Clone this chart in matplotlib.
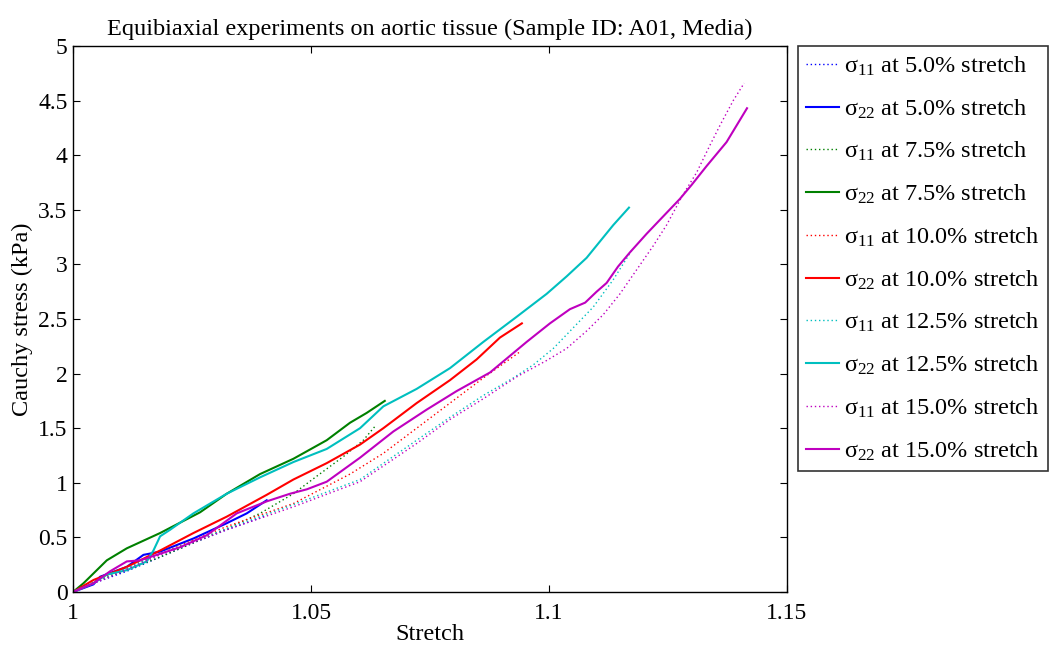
import matplotlib
matplotlib.use("Agg")
import matplotlib.pyplot as plt

plt.rcParams['font.family'] = ['Liberation Serif', 'DejaVu Serif']
plt.rcParams['mathtext.fontset'] = 'custom'
plt.rcParams['mathtext.rm'] = 'Liberation Serif'
plt.rcParams['mathtext.it'] = 'Liberation Serif'
plt.rcParams['mathtext.default'] = 'regular'

title = "Equibiaxial experiments on aortic tissue (Sample ID: A01, Media)"
xlabel = "Stretch"
ylabel = "Cauchy stress (kPa)"
xticks = [1.0, 1.05, 1.1, 1.15]
xticklabels = ["1", "1.05", "1.1", "1.15"]
yticks = [0, 0.5, 1, 1.5, 2, 2.5, 3, 3.5, 4, 4.5, 5]
yticklabels = ["0", "0.5", "1", "1.5", "2", "2.5", "3", "3.5", "4", "4.5", "5"]

# sigma_11 / sigma_22 at 5.0% stretch
s11_5_x = [1.0, 1.0043, 1.0113, 1.0183, 1.0253, 1.0323, 1.0407]
s11_5_y = [0, 0.08, 0.19, 0.32, 0.45, 0.57, 0.70]
s22_5_x = [1.0, 1.0043, 1.0057, 1.0113, 1.0148, 1.0183, 1.0253, 1.0323, 1.0365, 1.0407]
s22_5_y = [0, 0.07, 0.14, 0.23, 0.34, 0.37, 0.49, 0.63, 0.72, 0.84]

# 7.5%
s11_75_x = [1.0, 1.0043, 1.0113, 1.0183, 1.0253, 1.0323, 1.0393, 1.0463, 1.0512, 1.0568, 1.061, 1.0635]
s11_75_y = [0, 0.09, 0.20, 0.32, 0.45, 0.58, 0.72, 0.90, 1.06, 1.24, 1.39, 1.52]
s22_75_x = [1.0, 1.0022, 1.0057, 1.0071, 1.0113, 1.0183, 1.0267, 1.0323, 1.0393, 1.0463, 1.0533,
            1.0582, 1.0617, 1.0655]
s22_75_y = [0, 0.08, 0.23, 0.29, 0.40, 0.54, 0.73, 0.90, 1.08, 1.22, 1.39, 1.55, 1.64, 1.75]

# 10.0%
s11_10_x = [1.0, 1.0078, 1.0183, 1.0323, 1.0463, 1.0582, 1.0652, 1.0722, 1.0792, 1.0862, 1.0939]
s11_10_y = [0, 0.16, 0.35, 0.60, 0.81, 1.08, 1.27, 1.50, 1.73, 1.96, 2.20]
s22_10_x = [1.0, 1.0043, 1.0113, 1.0183, 1.0253, 1.0323, 1.0407, 1.0463, 1.0533, 1.0603, 1.0652,
            1.0722, 1.0792, 1.0848, 1.0897, 1.0943]
s22_10_y = [0, 0.11, 0.23, 0.38, 0.54, 0.69, 0.89, 1.03, 1.18, 1.35, 1.50, 1.73, 1.94, 2.13, 2.33, 2.46]

# 12.5%
s11_125_x = [1.0, 1.0078, 1.0183, 1.0323, 1.0463, 1.0603, 1.0722, 1.0792, 1.0862, 1.0925, 1.0967,
             1.1009, 1.1051, 1.1093, 1.1135, 1.1174]
s11_125_y = [0, 0.15, 0.35, 0.58, 0.80, 1.03, 1.39, 1.60, 1.80, 1.96, 2.08, 2.23, 2.42, 2.61, 2.86, 3.13]
s22_125_x = [1.0, 1.0043, 1.0071, 1.0113, 1.0155, 1.0169, 1.0183, 1.0204, 1.0253, 1.0323, 1.0393,
             1.0463, 1.0533, 1.0603, 1.0652, 1.0722, 1.0792, 1.0862, 1.0932, 1.0995, 1.1037, 1.1079,
             1.1107, 1.1135, 1.1168]
s22_125_y = [0, 0.08, 0.16, 0.20, 0.28, 0.38, 0.51, 0.57, 0.72, 0.90, 1.05, 1.19, 1.31, 1.50, 1.70,
             1.86, 2.05, 2.29, 2.52, 2.73, 2.89, 3.06, 3.21, 3.36, 3.52]

# 15.0%
s11_15_x = [1.0, 1.0078, 1.0183, 1.0323, 1.0463, 1.0603, 1.0722, 1.0792, 1.0862, 1.0932, 1.0995,
            1.1037, 1.1079, 1.1114, 1.1149, 1.1184, 1.1219, 1.1247, 1.1279, 1.131, 1.1338, 1.136,
            1.1387, 1.141]
s11_15_y = [0, 0.14, 0.34, 0.57, 0.78, 1.01, 1.36, 1.58, 1.77, 1.97, 2.12, 2.23, 2.39, 2.54, 2.73,
            2.95, 3.17, 3.36, 3.62, 3.84, 4.09, 4.28, 4.50, 4.66]
s22_15_x = [1.0, 1.0043, 1.0078, 1.0113, 1.0141, 1.0176, 1.0225, 1.0281, 1.0344, 1.0407, 1.0456,
            1.0491, 1.0533, 1.0568, 1.0603, 1.0673, 1.0743, 1.0806, 1.0876, 1.0953, 1.1002, 1.1044,
            1.1076, 1.110, 1.1121, 1.1145, 1.117, 1.1205, 1.124, 1.1275, 1.130, 1.1331, 1.1373, 1.1416]
s22_15_y = [0, 0.08, 0.19, 0.28, 0.29, 0.34, 0.41, 0.52, 0.72, 0.83, 0.90, 0.94, 1.01, 1.12, 1.23,
            1.47, 1.67, 1.84, 2.01, 2.29, 2.46, 2.59, 2.65, 2.75, 2.83, 2.98, 3.11, 3.28, 3.44, 3.60,
            3.73, 3.90, 4.12, 4.43]

levels = ["5.0", "7.5", "10.0", "12.5", "15.0"]
colors = [(0, 0, 1), (0, 0.5, 0), (1, 0, 0), (0, 0.75, 0.75), (0.75, 0, 0.75)]
s11 = [(s11_5_x, s11_5_y), (s11_75_x, s11_75_y), (s11_10_x, s11_10_y), (s11_125_x, s11_125_y), (s11_15_x, s11_15_y)]
s22 = [(s22_5_x, s22_5_y), (s22_75_x, s22_75_y), (s22_10_x, s22_10_y), (s22_125_x, s22_125_y), (s22_15_x, s22_15_y)]

fig = plt.figure(figsize=(10.49, 6.46), dpi=100)
ax = fig.add_axes([73 / 1049, (646 - 592) / 646, (787 - 73) / 1049, (592 - 46) / 646])

for lev, col, a, b in zip(levels, colors, s11, s22):
    ax.plot(a[0], a[1], color=col, linestyle=(0, (1, 2)), linewidth=1.0,
            label=r"$\sigma_{11}$ at " + lev + "% stretch")
    ax.plot(b[0], b[1], color=col, linestyle='-', linewidth=1.5,
            label=r"$\sigma_{22}$ at " + lev + "% stretch")

ax.set_xlim(1.0, 1.15)
ax.set_ylim(0, 5)
ax.set_xticks(xticks)
ax.set_xticklabels(xticklabels)
ax.set_yticks(yticks)
ax.set_yticklabels(yticklabels)
ax.tick_params(direction='in', top=True, right=True, length=5, width=0.8, labelsize=17)
ax.tick_params(axis='x', pad=8)
ax.tick_params(axis='y', pad=4)
for sp in ax.spines.values():
    sp.set_linewidth(1.0)
    sp.set_color('black')

ax.set_title(title, fontsize=17.5, pad=8)
ax.set_xlabel(xlabel, fontsize=17.5, labelpad=0)
ax.set_ylabel(ylabel, fontsize=17.5, labelpad=4)

leg = ax.legend(loc='upper left', bbox_to_anchor=(1.015, 1.0), borderaxespad=0, fontsize=17.5,
                frameon=True, fancybox=False, edgecolor='black', handlelength=1.36,
                handletextpad=0.2, labelspacing=0.8, borderpad=0.35)
leg.get_frame().set_linewidth(1.2)

fig.savefig("out.png", dpi=100)
